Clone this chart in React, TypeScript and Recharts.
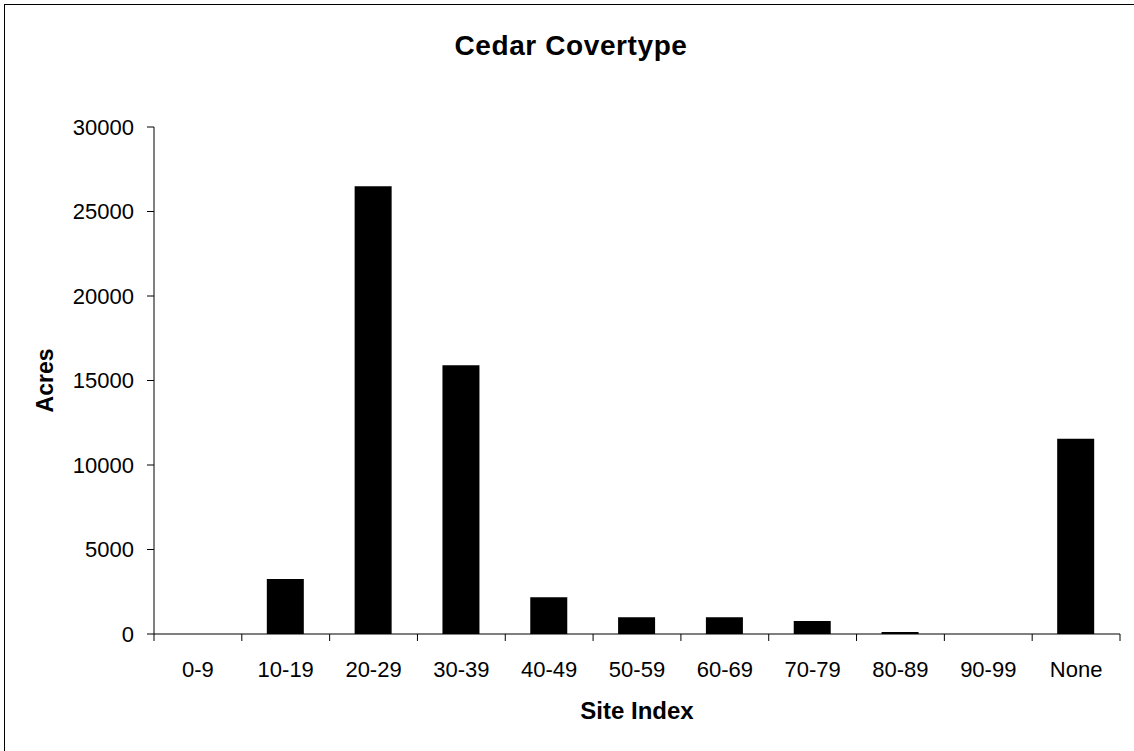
import React from 'react';
import { BarChart, Bar, XAxis, YAxis } from 'recharts';

const categories = ['0-9', '10-19', '20-29', '30-39', '40-49', '50-59', '60-69', '70-79', '80-89', '90-99', 'None'];
const acres = [0, 3250, 26500, 15900, 2170, 990, 990, 770, 120, 0, 11550];
const yTicks = [0, 5000, 10000, 15000, 20000, 25000, 30000];
const chartTitle = 'Cedar Covertype';
const xTitle = 'Site Index';
const yTitle = 'Acres';

const data = categories.map((c, i) => ({ category: c, acres: acres[i] }));

const FONT = '"Liberation Sans", Arial, Helvetica, sans-serif';
const TICK_SIZE = 7;
const X_TICK_MARGIN = 20;
const TICK_FONT = 22;
const AXIS_COLOR = '#000';

function XTick(props: any) {
  const { x, y, payload, index, width } = props;
  const half = payload && payload.offset ? payload.offset : width / categories.length / 2;
  const axisY = y - X_TICK_MARGIN - TICK_SIZE;
  return (
    <g>
      <line x1={x - half} x2={x - half} y1={axisY} y2={axisY + TICK_SIZE} stroke={AXIS_COLOR} strokeWidth={1} />
      {index === categories.length - 1 ? (
        <line x1={x + half} x2={x + half} y1={axisY} y2={axisY + TICK_SIZE} stroke={AXIS_COLOR} strokeWidth={1} />
      ) : null}
      <text x={x} y={y} dy="0.71em" textAnchor="middle" fontFamily={FONT} fontSize={TICK_FONT} fill="#000">
        {payload.value}
      </text>
    </g>
  );
}

function YLabel(props: any) {
  const vb = props.viewBox || {};
  const cx = vb.x + 45;
  const cy = vb.y + vb.height / 2;
  return (
    <text
      x={cx}
      y={cy}
      transform={`rotate(-90, ${cx}, ${cy})`}
      textAnchor="middle"
      dominantBaseline="central"
      fontFamily={FONT}
      fontWeight="bold"
      fontSize={23}
      fill="#000"
    >
      {yTitle}
    </text>
  );
}

export default function App() {
  return (
    <div style={{ position: 'absolute', left: 0, top: 0, width: 1134, height: 751, background: '#fff' }}>
      <div
        style={{
          position: 'absolute',
          left: 4,
          top: 4,
          width: 1130,
          height: 747,
          borderLeft: '1.5px solid #000',
          borderTop: '1.5px solid #000',
          boxSizing: 'border-box',
        }}
      />
      <div
        style={{
          position: 'absolute',
          left: 4,
          top: 32,
          width: 1134,
          textAlign: 'center',
          fontFamily: FONT,
          fontWeight: 'bold',
          fontSize: 28,
          letterSpacing: 0.6,
          lineHeight: '28px',
          color: '#000',
        }}
      >
        {chartTitle}
      </div>
      <div style={{ position: 'absolute', left: 0, top: 0 }}>
        <BarChart
          width={1134}
          height={751}
          data={data}
          margin={{ top: 127, right: 14, left: 0, bottom: 0 }}
          barSize={37}
        >
          <XAxis
            dataKey="category"
            height={117}
            tickLine={false}
            tickSize={TICK_SIZE}
            tickMargin={X_TICK_MARGIN}
            axisLine={{ stroke: AXIS_COLOR }}
            tick={<XTick />}
            interval={0}
            label={{
              value: xTitle,
              position: 'insideBottom',
              offset: 32,
              style: { fontFamily: FONT, fontWeight: 'bold', fontSize: 24, fill: '#000' },
            }}
          />
          <YAxis
            width={154}
            domain={[0, 30000]}
            ticks={yTicks}
            interval={0}
            tickSize={TICK_SIZE}
            tickMargin={13}
            axisLine={{ stroke: AXIS_COLOR }}
            tickLine={{ stroke: AXIS_COLOR }}
            tick={{ fontFamily: FONT, fontSize: TICK_FONT, fill: '#000' }}
            label={<YLabel />}
          />
          <Bar dataKey="acres" fill="#000" isAnimationActive={false} />
        </BarChart>
      </div>
    </div>
  );
}
